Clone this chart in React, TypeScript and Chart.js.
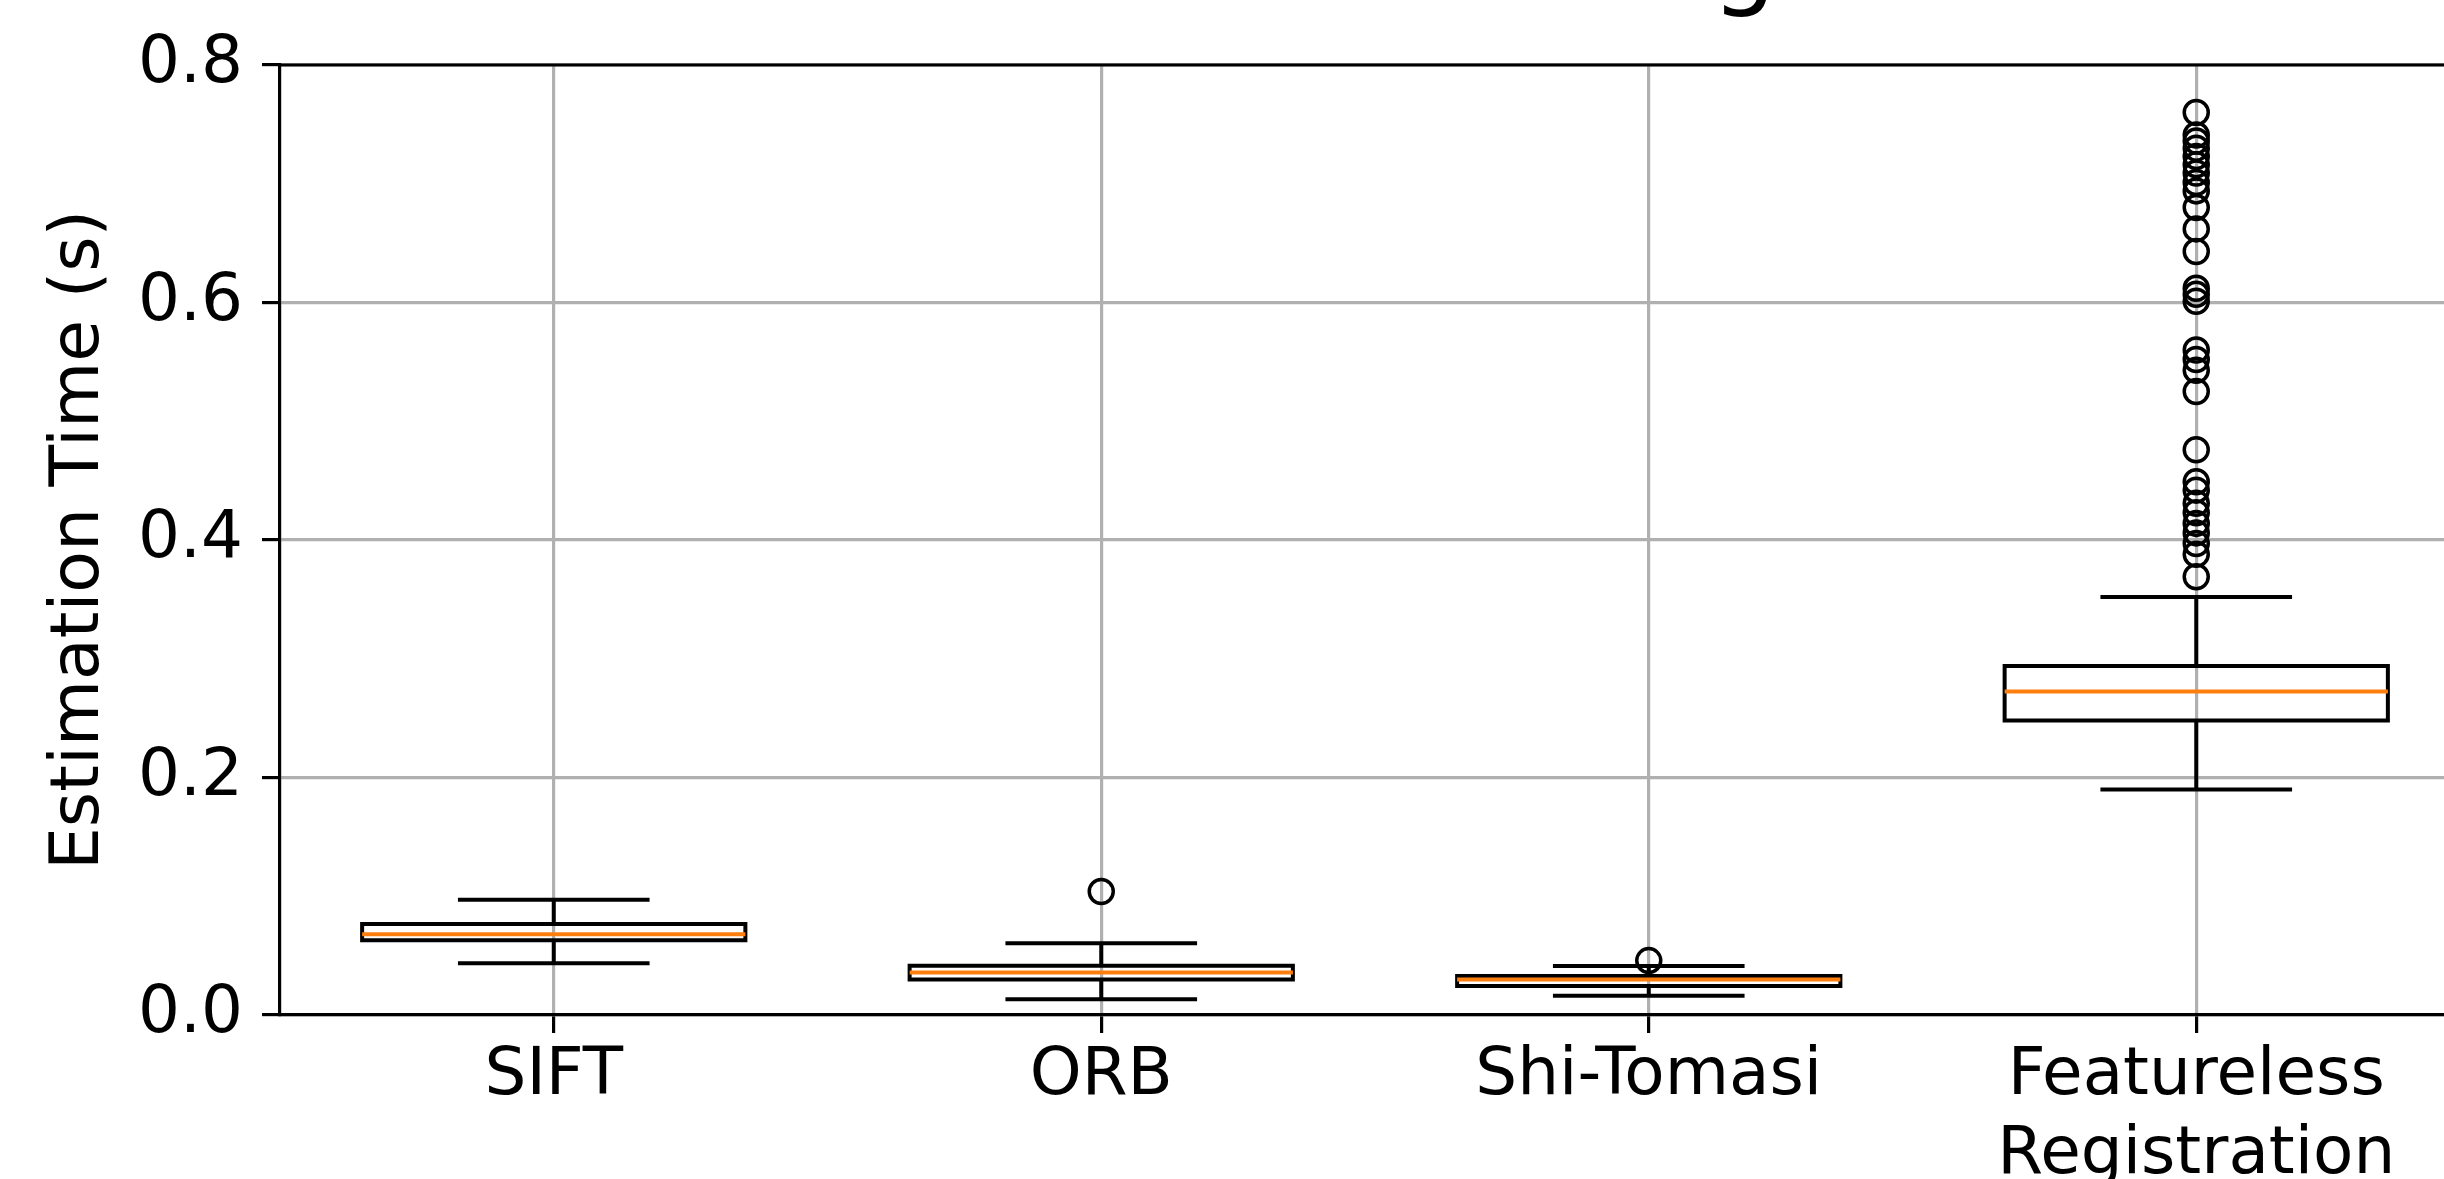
import React, { useEffect, useRef } from 'react';
import { Chart, registerables } from 'chart.js';

Chart.register(...registerables);

// ---- data ----
const categories = ['SIFT', 'ORB', 'Shi-Tomasi', 'Featureless Registration'];
const tickLabels: string[][] = [['SIFT'], ['ORB'], ['Shi-Tomasi'], ['Featureless', 'Registration']];
const whiskerLow = [0.0435, 0.0132, 0.0163, 0.19];
const q1 = [0.063, 0.03, 0.0244, 0.248];
const median = [0.068, 0.0357, 0.03, 0.2724];
const q3 = [0.0767, 0.0415, 0.0329, 0.294];
const whiskerHigh = [0.097, 0.0604, 0.0413, 0.352];
const siftOutliers: number[] = [];
const orbOutliers = [0.104];
const shiTomasiOutliers = [0.0458];
const featurelessOutliers = [
  0.76, 0.741, 0.736, 0.73, 0.723, 0.716, 0.709, 0.701, 0.694, 0.68, 0.662, 0.643,
  0.612, 0.607, 0.601, 0.56, 0.552, 0.543, 0.525, 0.476, 0.449, 0.442, 0.431, 0.423,
  0.414, 0.406, 0.397, 0.388, 0.369,
];
const outliers = [siftOutliers, orbOutliers, shiTomasiOutliers, featurelessOutliers];
const yTicks = [0, 0.2, 0.4, 0.6, 0.8];
const yLabel = 'Estimation Time (s)';
const titleText = 'Motion Tracking';

// ---- geometry / style constants ----
const BOX_HALF = 0.35;
const CAP_HALF = 0.175;
const LW = 4;
const FONT = 'DejaVu Sans';
const FS = 66;

type P = { x: number; y: number | null };
const pos = (i: number) => i + 1;
const gap = (i: number): P => ({ x: pos(i), y: null });

const boxPts: P[] = categories.flatMap((_, i) => [
  { x: pos(i) - BOX_HALF, y: q1[i] },
  { x: pos(i) + BOX_HALF, y: q1[i] },
  { x: pos(i) + BOX_HALF, y: q3[i] },
  { x: pos(i) - BOX_HALF, y: q3[i] },
  { x: pos(i) - BOX_HALF, y: q1[i] },
  gap(i),
]);
const whiskerPts: P[] = categories.flatMap((_, i) => [
  { x: pos(i), y: q3[i] },
  { x: pos(i), y: whiskerHigh[i] },
  gap(i),
  { x: pos(i), y: q1[i] },
  { x: pos(i), y: whiskerLow[i] },
  gap(i),
]);
const capPts: P[] = categories.flatMap((_, i) => [
  { x: pos(i) - CAP_HALF, y: whiskerHigh[i] },
  { x: pos(i) + CAP_HALF, y: whiskerHigh[i] },
  gap(i),
  { x: pos(i) - CAP_HALF, y: whiskerLow[i] },
  { x: pos(i) + CAP_HALF, y: whiskerLow[i] },
  gap(i),
]);
const medianPts: P[] = categories.flatMap((_, i) => [
  { x: pos(i) - BOX_HALF, y: median[i] },
  { x: pos(i) + BOX_HALF, y: median[i] },
  gap(i),
]);
const outlierPts: P[] = outliers.flatMap((arr, i) => arr.map((v) => ({ x: pos(i), y: v })));

const framePlugin = {
  id: 'frameAndTitle',
  afterDraw(chart: any) {
    const { ctx, chartArea: a } = chart;
    ctx.save();
    ctx.strokeStyle = '#000';
    ctx.lineWidth = 3.2;
    ctx.beginPath();
    ctx.moveTo(a.left, a.top);
    ctx.lineTo(a.right, a.top);
    ctx.lineTo(a.right, a.bottom);
    ctx.stroke();
    ctx.fillStyle = '#000';
    ctx.font = `102px "${FONT}"`;
    ctx.textAlign = 'center';
    ctx.textBaseline = 'alphabetic';
    ctx.fillText(titleText, (a.left + a.right) / 2, a.top - 69);
    ctx.restore();
  },
};

const lineDs = (data: P[], color: string, extra: any = {}) => ({
  type: 'line' as const,
  data,
  borderColor: color,
  borderWidth: LW,
  pointRadius: 0,
  pointHoverRadius: 0,
  fill: false,
  tension: 0,
  spanGaps: false,
  borderJoinStyle: 'miter',
  borderCapStyle: 'butt',
  ...extra,
});

export default function App() {
  const ref = useRef<HTMLCanvasElement>(null);

  useEffect(() => {
    if (!ref.current) return;
    const chart = new Chart(ref.current, {
      type: 'line',
      data: {
        datasets: [
          {
            type: 'line',
            data: outlierPts,
            showLine: false,
            pointRadius: 12,
            pointHoverRadius: 12,
            pointBorderWidth: 3.5,
            pointBorderColor: '#000',
            pointBackgroundColor: 'rgba(0,0,0,0)',
            borderColor: '#000',
          } as any,
          lineDs(medianPts, '#ff7f0e'),
          lineDs(boxPts, '#000', { borderCapStyle: 'square' }),
          lineDs(capPts, '#000'),
          lineDs(whiskerPts, '#000'),
        ],
      },
      options: {
        animation: false,
        responsive: false,
        devicePixelRatio: 1,
        events: [],
        layout: { padding: { left: 0, right: 30, top: 65, bottom: 0 } },
        plugins: {
          legend: { display: false },
          tooltip: { enabled: false },
          title: { display: false },
        },
        scales: {
          x: {
            type: 'linear',
            min: 0.5,
            max: 4.5,
            offset: false,
            afterBuildTicks: (scale: any) => {
              scale.ticks = categories.map((_, i) => ({ value: pos(i) }));
            },
            afterFit: (scale: any) => {
              scale.height = 164;
            },
            grid: {
              color: '#b0b0b0',
              lineWidth: 3.2,
              tickColor: '#000',
              tickWidth: 3.2,
              tickLength: 18,
            },
            border: { display: true, color: '#000', width: 3.2 },
            ticks: {
              autoSkip: false,
              maxRotation: 0,
              minRotation: 0,
              padding: 4,
              color: '#000',
              font: { family: FONT, size: FS, lineHeight: 1.2 },
              callback: (_v: any, index: number) => tickLabels[index],
            },
          },
          y: {
            type: 'linear',
            min: 0,
            max: 0.8,
            afterBuildTicks: (scale: any) => {
              scale.ticks = yTicks.map((v) => ({ value: v }));
            },
            afterFit: (scale: any) => {
              scale.width = 280;
            },
            grid: {
              color: '#b0b0b0',
              lineWidth: 3.2,
              tickColor: '#000',
              tickWidth: 3.2,
              tickLength: 18,
            },
            border: { display: true, color: '#000', width: 3.2 },
            ticks: {
              padding: 19,
              color: '#000',
              font: { family: FONT, size: FS },
              callback: (v: any) => Number(v).toFixed(1),
            },
            title: {
              display: true,
              text: yLabel,
              color: '#000',
              font: { family: FONT, size: 68, lineHeight: 1.2 },
              padding: { top: 40, bottom: 0 },
            },
          },
        },
      } as any,
      plugins: [framePlugin],
    });
    return () => chart.destroy();
  }, []);

  return (
    <div
      style={{
        position: 'fixed',
        left: 0,
        top: 0,
        width: 2444,
        height: 1179,
        overflow: 'hidden',
        background: '#fff',
      }}
    >
      <canvas ref={ref} width={2500} height={1179} style={{ display: 'block', width: 2500, height: 1179 }} />
    </div>
  );
}
